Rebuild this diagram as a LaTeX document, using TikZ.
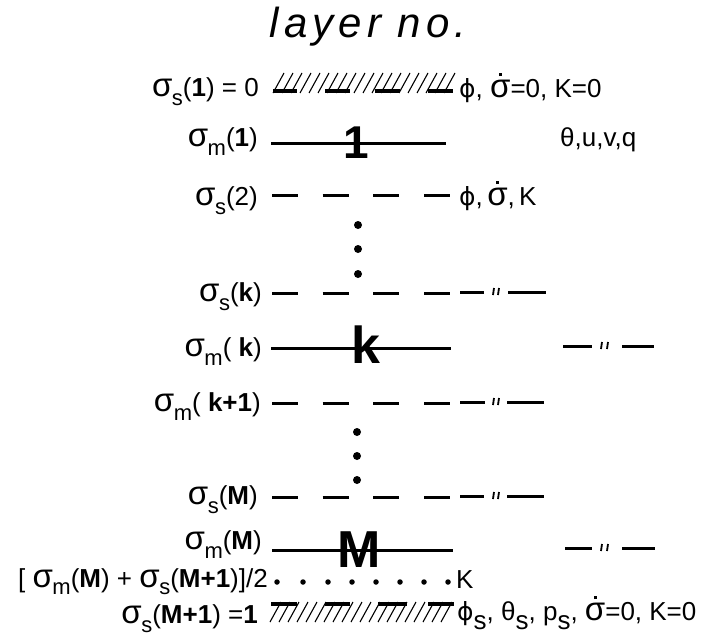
\documentclass[tikz,border=0pt]{standalone}
\usepackage{fontspec}
\setmainfont{Liberation Sans}
\newfontfamily\dvs{DejaVu Sans}
\newfontfamily\titlefont[LetterSpace=12,UprightFont=* Italic]{Liberation Sans}
\newcommand\sig{{\fontsize{33}{33}\selectfont σ}}
\newcommand\sgsub[2][9pt]{\sig\kern-0.5pt\raisebox{-#1}{\fontsize{22}{22}\selectfont #2}}
\newcommand\sdot{\ooalign{\sig\cr\hidewidth\raisebox{21pt}{\rule{3pt}{3pt}}\hidewidth\cr}}
\newcommand\phis{{\dvs\fontsize{25}{25}\selectfont ϕ}}
\tikzset{
  lab/.style={anchor=base east, inner sep=0pt, font=\fontsize{26}{26}\selectfont},
  rt/.style={anchor=base west, inner sep=0pt, font=\fontsize{26}{26}\selectfont},
  num/.style={anchor=base, inner sep=0pt, font=\bfseries\fontsize{52}{52}\selectfont},
  solidln/.style={line width=3pt},
  dashln/.style={line width=3pt, dash pattern=on 26pt off 24.7pt},
  seg/.style={line width=3pt},
  qm/.style={line width=1.8pt},
  hatch/.style={line width=1.1pt},
  hbar/.style={line width=3.5pt},
  vdot/.style={circle, fill, inner sep=0pt, minimum size=8pt},
  hdot/.style={circle, fill, inner sep=0pt, minimum size=5.5pt}
}
\begin{document}
\begin{tikzpicture}[x=1pt,y=-1pt]
\useasboundingbox (0,0) rectangle (706,637);
% title
\node[anchor=base, inner sep=0pt, font=\titlefont\fontsize{42}{42}\selectfont] (title) at (368,37) {layer no.};

% row 1: top boundary
\node[lab] (l1) at (259,96) {\sgsub{s}(\textbf{1}) = 0};
\foreach \x in {273,282,...,450} {\draw[hatch] (\x,93) -- (\x+11,73);}
\foreach \a/\b in {273/297,325/350,375/400,428/453} {\draw[hbar] (\a,91) -- (\b,91);}
\node[rt] (r1) at (459,97) {\phis, \sdot=0, K=0};

% row 2: sigma_m(1)
\node[lab] (l2) at (258,146) {\sgsub{m}(\textbf{1})};
\coordinate (a2) at (271,143); \coordinate (b2) at (446,143);
\draw[solidln] (a2) -- (b2);
\node[num, font=\bfseries\fontsize{46}{46}\selectfont] (n1) at (356,158) {1};
\node[rt] (r2) at (560,146) {θ,u,v,q};

% row 3: sigma_s(2)
\node[lab] (l3) at (258,205) {\sgsub{s}(2)};
\coordinate (a3) at (272,195); \coordinate (b3) at (450,195);
\draw[dashln] (a3) -- (b3);
\node[rt] (r3) at (459,205) {\phis,\,\sdot,\,K};

% vertical dots
\node[vdot] (d1) at (358,225) {};
\node[vdot] (d2) at (358,249) {};
\node[vdot] (d3) at (358,274) {};

% row 4: sigma_s(k)
\node[lab] (l4) at (262,301) {\sgsub{s}(\textbf{k})};
\coordinate (a4) at (272,293); \coordinate (b4) at (450,293);
\draw[dashln] (a4) -- (b4);
\draw[seg] (460,292) -- (484,292);
\draw[qm] (494,288) -- (493,295) (499,288) -- (498,295);
\draw[seg] (508,292) -- (546,292);

% row 5: sigma_m(k)
\node[lab] (l5) at (262,356) {\sgsub{m}( \textbf{k})};
\coordinate (a5) at (271,348); \coordinate (b5) at (451,348);
\draw[solidln] (a5) -- (b5);
\node[num] (nk) at (366,363) {k};
\draw[seg] (563,346) -- (592,346);
\draw[qm] (602,342) -- (601,349) (608,342) -- (607,349);
\draw[seg] (622,346) -- (654,346);

% row 6: sigma_m(k+1)
\node[lab] (l6) at (261,411) {\sgsub{m}( \textbf{k+1})};
\coordinate (a6) at (272,403); \coordinate (b6) at (450,403);
\draw[dashln] (a6) -- (b6);
\draw[seg] (460,402) -- (485,402);
\draw[qm] (494,398) -- (493,405) (499,398) -- (498,405);
\draw[seg] (507,402) -- (544,402);

% vertical dots
\node[vdot] (d4) at (357,432) {};
\node[vdot] (d5) at (357,456) {};
\node[vdot] (d6) at (357,480) {};

% row 7: sigma_s(M)
\node[lab] (l7) at (258,504) {\sgsub{s}(\textbf{M})};
\coordinate (a7) at (272,497); \coordinate (b7) at (450,497);
\draw[dashln] (a7) -- (b7);
\draw[seg] (460,496) -- (484,496);
\draw[qm] (494,492) -- (493,499) (499,492) -- (498,499);
\draw[seg] (507,496) -- (544,496);

% row 8: sigma_m(M)
\node[lab] (l8) at (262,549) {\sgsub{m}(\textbf{M})};
\coordinate (a8) at (272,550); \coordinate (b8) at (453,550);
\draw[solidln] (a8) -- (b8);
\node[num] (nM) at (359,567) {M};
\draw[seg] (565,548) -- (592,548);
\draw[qm] (602,544) -- (601,551) (608,544) -- (607,551);
\draw[seg] (622,548) -- (655,548);

% row 9: midpoint
\node[lab] (l9) at (268,587) {[\ \sgsub[7pt]{m}(\textbf{M})\ +\ \sgsub[7pt]{s}(\textbf{M+1})]/2};
\foreach \x in {277,303,328,352,376,400,424,448} {\node[hdot] at (\x,582) {};}
\node[rt] (r9) at (456,588) {K};

% row 10: bottom boundary
\node[lab] (l10) at (258,623) {\sgsub{s}(\textbf{M+1}) =\textbf{1}};
\foreach \x in {270,279,...,446} {\draw[hatch] (\x,622) -- (\x+11,602);}
\foreach \a/\b in {271/297,325/350,378/407,428/454} {\draw[hbar] (\a,604) -- (\b,604);}
\node[rt] (r10) at (457,620) {\phis\raisebox{-9pt}{s}, θ\raisebox{-9pt}{s}, p\raisebox{-9pt}{s}, \sdot=0, K=0};
\end{tikzpicture}
\end{document}
